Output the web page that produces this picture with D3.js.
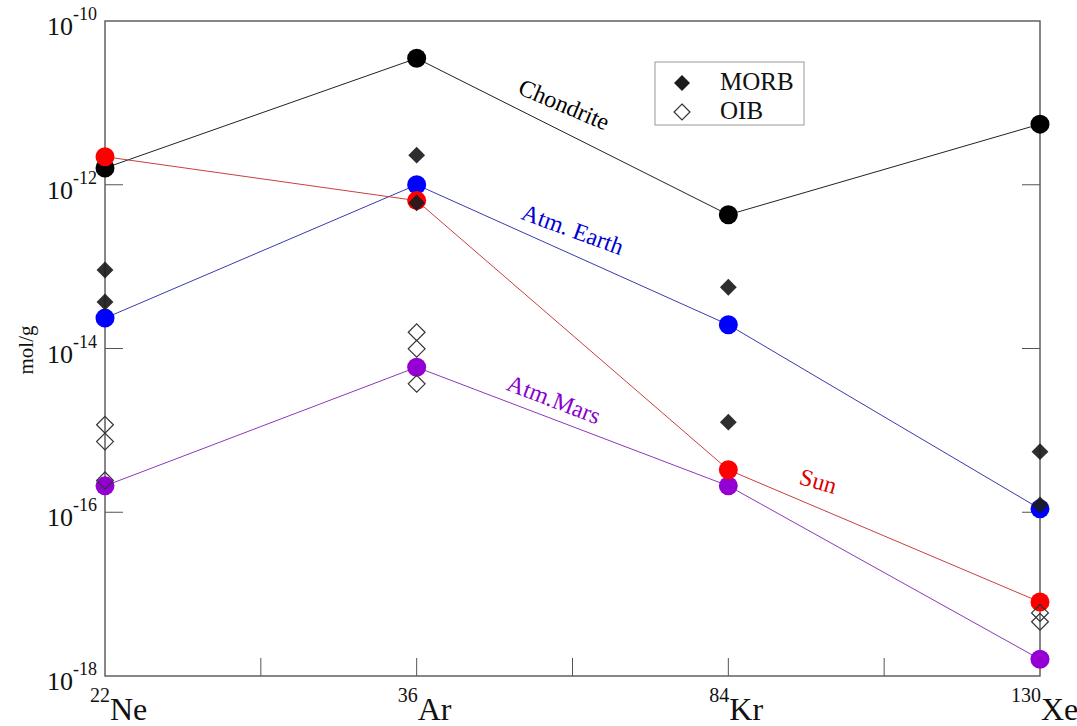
<!DOCTYPE html>
<html>
<head>
<meta charset="utf-8">
<script src="https://cdn.jsdelivr.net/npm/d3@7"></script>
<style>
  html, body { margin: 0; padding: 0; background: #fff; }
  svg { display: block; font-family: "Liberation Serif", "Times New Roman", serif; }
</style>
</head>
<body>
<svg id="chart" width="1077" height="726"></svg>
<script>
// Noble gas isotopes along the x axis (mass number + element symbol)
const massNumbers = ["22", "36", "84", "130"];
const elements = ["Ne", "Ar", "Kr", "Xe"];

// Reservoir abundances, mol/g
const chondrite = [1.6e-12, 3.5e-11, 4.3e-13, 5.5e-12];
const atmEarth  = [2.35e-14, 1.0e-12, 1.95e-14, 1.1e-16];
const atmMars   = [2.1e-16, 5.9e-15, 2.1e-16, 1.6e-18];
const sun       = [2.2e-12, 6.4e-13, 3.3e-16, 8.0e-18];

// Basalt samples: [isotope index, mol/g]
const morb = [[0, 9.1e-14], [0, 3.7e-14], [1, 2.3e-12], [1, 6.0e-13],
              [2, 5.6e-14], [2, 1.26e-15], [3, 5.5e-16], [3, 1.23e-16]];
const oib  = [[0, 1.17e-15], [0, 7.3e-16], [0, 2.45e-16],
              [1, 1.58e-14], [1, 9.9e-15], [1, 3.7e-15],
              [3, 5.9e-18], [3, 4.6e-18]];

// Y axis decades that carry labels
const yTickExponents = [-10, -12, -14, -16, -18];

const svg = d3.select("#chart");
const plotLeft = 105, plotRight = 1040, plotTop = 21, plotBottom = 676;

const x = d3.scalePoint().domain(d3.range(elements.length)).range([plotLeft, plotRight]);
const y = d3.scaleLog().domain([1e-18, 1e-10]).range([plotBottom, plotTop]);

const frameColor = "#555";

// ---- ticks (inside the frame) ----
const tickLen = 18;
const g = svg.append("g");
// x ticks at every half step between the end columns
const xTickPos = d3.range(0.5, elements.length - 1, 0.5);
const xHalf = v => plotLeft + (plotRight - plotLeft) * v / (elements.length - 1);
g.selectAll(".xt").data(xTickPos).join("line")
  .attr("x1", d => xHalf(d)).attr("x2", d => xHalf(d))
  .attr("y1", plotBottom).attr("y2", plotBottom - tickLen)
  .attr("stroke", frameColor).attr("stroke-width", 1);
// y ticks on left and right
const yInner = yTickExponents.filter(e => e > -18 && e < -10);
g.selectAll(".ytl").data(yInner).join("line")
  .attr("x1", plotLeft).attr("x2", plotLeft + tickLen)
  .attr("y1", d => y(Math.pow(10, d))).attr("y2", d => y(Math.pow(10, d)))
  .attr("stroke", frameColor).attr("stroke-width", 1);
g.selectAll(".ytr").data(yInner).join("line")
  .attr("x1", plotRight).attr("x2", plotRight - tickLen)
  .attr("y1", d => y(Math.pow(10, d))).attr("y2", d => y(Math.pow(10, d)))
  .attr("stroke", frameColor).attr("stroke-width", 1);

// ---- frame ----
svg.append("rect")
  .attr("x", plotLeft).attr("y", plotTop)
  .attr("width", plotRight - plotLeft).attr("height", plotBottom - plotTop)
  .attr("fill", "none").attr("stroke", frameColor).attr("stroke-width", 1.4);

// ---- y tick labels: 10^n ----
const yl = svg.append("g").attr("fill", "#111");
yTickExponents.forEach(e => {
  const t = yl.append("text")
    .attr("x", 97).attr("y", y(Math.pow(10, e)) + 14)
    .attr("text-anchor", "end");
  t.append("tspan").attr("font-size", 26).text("10");
  t.append("tspan").attr("font-size", 18).attr("dy", -15).text(String(e));
});

// ---- x tick labels: mass number superscript + symbol ----
const xl = svg.append("g").attr("fill", "#111");
elements.forEach((el, i) => {
  const px = x(i) + (i === 0 ? 5 : 1);
  xl.append("text").attr("x", px).attr("y", 702)
    .attr("text-anchor", "end").attr("font-size", 20).text(massNumbers[i]);
  xl.append("text").attr("x", px).attr("y", 720)
    .attr("text-anchor", "start").attr("font-size", 32).text(el);
});

// ---- y axis title ----
svg.append("text")
  .attr("transform", "translate(33,350) rotate(-90)")
  .attr("text-anchor", "middle").attr("font-size", 21).attr("fill", "#111")
  .text("mol/g");

// ---- reservoir series ----
const series = [
  { name: "Chondrite",  values: chondrite, color: "#000000", line: "#222",    text: "#000000", lx: 561, ly: 112, rot: 23 },
  { name: "Atm. Earth", values: atmEarth,  color: "#0000ff", line: "#3a3ab0", text: "#0000d0", lx: 570, ly: 237, rot: 20 },
  { name: "Atm.Mars",   values: atmMars,   color: "#9400d3", line: "#8a3ab8", text: "#8a00cc", lx: 551, ly: 407, rot: 21 },
  { name: "Sun",        values: sun,       color: "#ff0000", line: "#c84040", text: "#dd0000", lx: 816, ly: 489, rot: 16 }
];

const line = d3.line().x((d, i) => x(i)).y(d => y(d));

series.forEach(s => {
  svg.append("path").datum(s.values)
    .attr("d", line).attr("fill", "none")
    .attr("stroke", s.line).attr("stroke-width", 1);
});

series.forEach(s => {
  svg.append("g").selectAll("circle").data(s.values).join("circle")
    .attr("cx", (d, i) => x(i)).attr("cy", d => y(d))
    .attr("r", 9.5).attr("fill", s.color);
});

// ---- basalt diamonds ----
const diamond = d3.symbol().type(d3.symbolDiamond2).size(2 * 9.5 * 9.5);
svg.append("g").selectAll("path").data(morb).join("path")
  .attr("d", diamond)
  .attr("transform", d => `translate(${x(d[0])},${y(d[1])})`)
  .attr("fill", "#1c1c1c").attr("fill-opacity", 0.92);
svg.append("g").selectAll("path").data(oib).join("path")
  .attr("d", diamond)
  .attr("transform", d => `translate(${x(d[0])},${y(d[1])})`)
  .attr("fill", "none").attr("stroke", "#333").attr("stroke-width", 1.2);

// ---- series labels ----
series.forEach(s => {
  svg.append("text")
    .attr("transform", `translate(${s.lx},${s.ly}) rotate(${s.rot})`)
    .attr("text-anchor", "middle").attr("font-size", 24)
    .attr("fill", s.text).text(s.name);
});

// ---- legend ----
const lg = svg.append("g");
lg.append("rect").attr("x", 655).attr("y", 62).attr("width", 149).attr("height", 63)
  .attr("fill", "#fff").attr("stroke", "#999").attr("stroke-width", 1);
const legendItems = [
  { label: "MORB", fill: "#1c1c1c", stroke: "none", cy: 83 },
  { label: "OIB",  fill: "none", stroke: "#333", cy: 112 }
];
legendItems.forEach(it => {
  lg.append("path").attr("d", d3.symbol().type(d3.symbolDiamond2).size(2 * 9 * 9))
    .attr("transform", `translate(682,${it.cy})`)
    .attr("fill", it.fill).attr("stroke", it.stroke).attr("stroke-width", 1.2);
  lg.append("text").attr("x", 720).attr("y", it.cy + 7)
    .attr("font-size", 25).attr("fill", "#111").text(it.label);
});
</script>
</body>
</html>
